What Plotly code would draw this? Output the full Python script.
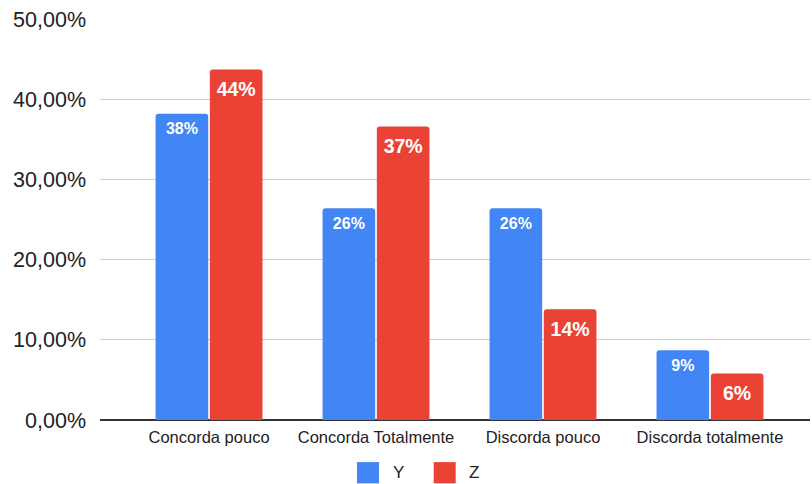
import plotly.graph_objects as go

# Survey answers per category, as shares of respondents
categories = ["Concorda pouco", "Concorda Totalmente", "Discorda pouco", "Discorda totalmente"]
y_values = [0.382, 0.264, 0.264, 0.087]
z_values = [0.437, 0.366, 0.138, 0.058]
series_names = ["Y", "Z"]
y_ticks = [0, 0.1, 0.2, 0.3, 0.4, 0.5]

BLUE = "#4285F4"
RED = "#EA4335"
FONT = "Arial, Liberation Sans, sans-serif"
TEXT = "#222222"
GAP = 0.35

series = [
    (series_names[0], y_values, BLUE, 16, 12),
    (series_names[1], z_values, RED, 19.5, 17),
]

fig = go.Figure()

# Bars
for name, vals, color, _, _ in series:
    fig.add_trace(go.Bar(
        x=categories, y=vals, name=name, offsetgroup=name,
        marker=dict(color=color, cornerradius=3, line=dict(width=0)),
        showlegend=False, hoverinfo="x+y",
    ))

# Value labels inside the top of each bar (invisible markers set the inset)
for name, vals, color, fsize, msize in series:
    fig.add_trace(go.Scatter(
        x=categories, y=vals, name=name, offsetgroup=name, orientation="v",
        mode="markers+text", texttemplate="<b>%{y:.0%}</b>",
        textposition="bottom center",
        textfont=dict(color="white", size=fsize, family=FONT),
        marker=dict(size=msize, color="rgba(0,0,0,0)"),
        showlegend=False, hoverinfo="skip", cliponaxis=False,
    ))

# Legend: square swatches with the series names
legend_items = [
    (series_names[0], BLUE, 0.362, 0.420),
    (series_names[1], RED, 0.470, 0.527),
]
shapes = []
annotations = []
for name, color, sx, tx in legend_items:
    shapes.append(dict(
        type="rect", xref="paper", yref="paper",
        x0=sx, x1=sx + 0.031, y0=-0.158, y1=-0.105,
        fillcolor=color, line=dict(width=0), layer="above",
    ))
    annotations.append(dict(
        text=name, xref="paper", yref="paper", x=tx, y=-0.130,
        xanchor="center", yanchor="middle", showarrow=False,
        font=dict(size=17, color=TEXT, family=FONT),
    ))

fig.update_layout(
    width=812, height=484,
    margin=dict(l=100, r=2, t=19, b=64, autoexpand=False),
    paper_bgcolor="white", plot_bgcolor="white",
    separators=",.",
    barmode="group", bargap=GAP, bargroupgap=0.03,
    scattermode="group", scattergap=GAP,
    font=dict(family=FONT, color=TEXT),
    showlegend=False,
    shapes=shapes, annotations=annotations,
)

fig.update_xaxes(
    range=[-0.653, 3.599],
    showgrid=False, showline=False, ticks="", ticklabelstandoff=5,
    tickfont=dict(size=16.5, color=TEXT, family=FONT),
)
fig.update_yaxes(
    range=[0, 0.5], tickvals=y_ticks, tickformat=".2%",
    showgrid=True, gridcolor="#cccccc", gridwidth=1,
    zeroline=True, zerolinecolor="#333333", zerolinewidth=1.5,
    showline=False, ticks="", ticklabelstandoff=13,
    tickfont=dict(size=21.5, color=TEXT, family=FONT),
)

fig.write_html("out.html")
